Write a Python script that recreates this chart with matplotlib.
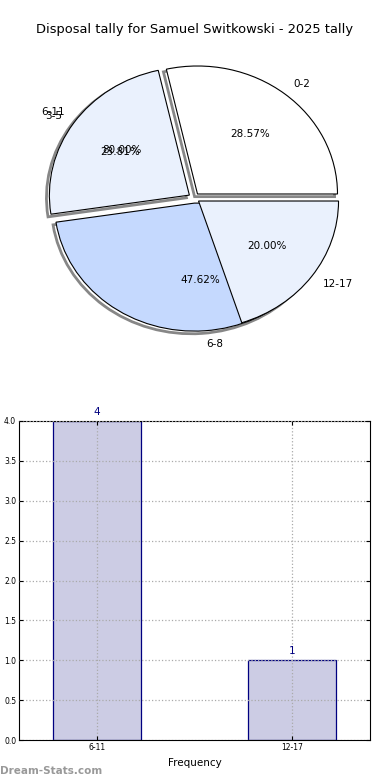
import matplotlib
matplotlib.use("Agg")
import matplotlib.pyplot as plt

title = "Disposal tally for Samuel Switkowski - 2025 tally"

# first pie (tally by range)
pie1_labels = ["0-2", "3-5", "6-8"]
pie1_values = [6, 5, 10]
pie1_colors = ["#ffffff", "#eaf1fd", "#c5d9fe"]

# second pie, drawn over the first
pie2_labels = ["6-11", "12-17"]
pie2_values = [4, 1]
pie2_colors = ["none", "#eaf1fd"]

# bar chart
bar_labels = ["6-11", "12-17"]
bar_values = [4, 1]

fig = plt.figure(figsize=(3.9, 7.8), dpi=100)
fig.patch.set_facecolor("white")

fig.text(0.5, 1 - 30 / 780, title, ha="center", va="center", fontsize=9.4)

# ---- pie ----
ax1 = fig.add_axes([19 / 390, 1 - 358 / 780, 350 / 390, 320 / 780])
wp = dict(edgecolor="black", linewidth=0.8)
shad = dict(ox=-0.015, oy=-0.015, facecolor="none", edgecolor="#555555",
            linewidth=2.0, alpha=0.7)
ax1.pie(pie1_values, labels=pie1_labels, colors=pie1_colors, autopct="%.2f%%",
        explode=[0.04] * len(pie1_values), shadow=shad, wedgeprops=wp,
        textprops=dict(fontsize=7.5))
w2, _, _ = ax1.pie(pie2_values, labels=pie2_labels, colors=pie2_colors,
                   autopct="%.2f%%", explode=[0.04] * len(pie2_values),
                   shadow=False, wedgeprops=wp, textprops=dict(fontsize=7.5))
w2[0].set_edgecolor("none")
ax1.set_aspect("auto")
ax1.set_xlim(-1.25, 1.25)
ax1.set_ylim(-1.25, 1.25)

# ---- bars ----
ax2 = fig.add_axes([19 / 390, 1 - 740 / 780, 351 / 390, 319 / 780])
x = range(len(bar_values))
ax2.bar(x, bar_values, width=0.45, color="#cccce4",
        edgecolor="#000080", linewidth=0.9, zorder=2)
for xi, v in zip(x, bar_values):
    ax2.text(xi, v + 0.05, str(v), ha="center", va="bottom", color="#000080",
             fontsize=7.5)
ax2.set_xlim(-0.4, 1.4)
ax2.set_ylim(0, 4)
ax2.set_yticks([i * 0.5 for i in range(9)])
ax2.set_xticks(list(x))
ax2.set_xticklabels(bar_labels)
ax2.tick_params(labelsize=5.5, direction="in", length=3, top=True, right=True,
                pad=2)
ax2.grid(True, linestyle=":", color="#aaaaaa", linewidth=0.9, zorder=3)
ax2.set_axisbelow(False)
ax2.set_xlabel("Frequency", fontsize=7.5, labelpad=4.5)

fig.text(0.0, 1 - 771 / 780, "Dream-Stats.com", ha="left", va="center",
         fontsize=7.5, color="#999999", fontweight="bold")

fig.savefig("out.png", dpi=100)
